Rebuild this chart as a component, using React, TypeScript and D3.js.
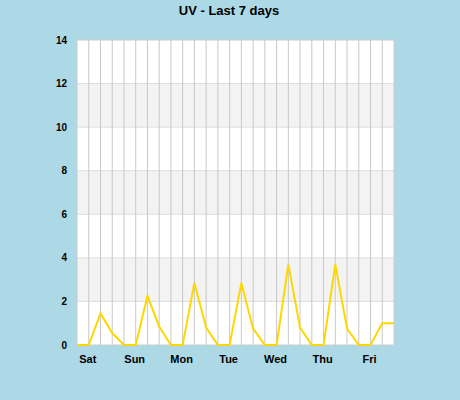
import React from 'react';
import * as d3 from 'd3';

// UV readings every 6 hours over the last 7 days
const uvValues = [
  0, 0, 1.45, 0.55, 0, 0, 2.25, 0.85, 0, 0, 2.85, 0.8, 0, 0,
  2.85, 0.75, 0, 0, 3.7, 0.8, 0, 0, 3.7, 0.75, 0, 0, 1.0, 1.0,
];
const dayLabels = ['Sat', 'Sun', 'Mon', 'Tue', 'Wed', 'Thu', 'Fri'];
const dayTickIndex = [1, 5, 9, 13, 17, 21, 25];
const yTicks = [0, 2, 4, 6, 8, 10, 12, 14];
const bandRanges = [[2, 4], [6, 8], [10, 12]];

const width = 460;
const height = 400;
const margin = { top: 40, right: 66, bottom: 55, left: 77 };
const font = '"Liberation Sans", Arial, sans-serif';

const App: React.FC = () => {
  const x = d3
    .scaleLinear()
    .domain([0, uvValues.length - 1])
    .range([margin.left, width - margin.right]);

  const y = d3
    .scaleLinear()
    .domain([0, 14])
    .range([height - margin.bottom, margin.top]);

  const line = d3
    .line<number>()
    .x((_, i) => x(i))
    .y(d => y(d));

  const gridIdx = d3.range(1, uvValues.length - 1);

  return (
    <>
      <style>{'body{margin:0}'}</style>
      <svg width={width} height={height} style={{ display: 'block' }}>
        <rect width={width} height={height} fill="#add8e6" />
        <text
          x={229}
          y={14.5}
          textAnchor="middle"
          fontFamily={font}
          fontSize={13}
          fontWeight="bold"
          fill="#000"
        >
          UV - Last 7 days
        </text>

        <rect
          x={x(0)}
          y={y(14)}
          width={x(uvValues.length - 1) - x(0)}
          height={y(0) - y(14)}
          fill="#fff"
        />
        {bandRanges.map(([a, b]) => (
          <rect
            key={a}
            x={x(0)}
            y={y(b)}
            width={x(uvValues.length - 1) - x(0)}
            height={y(a) - y(b)}
            fill="#f3f3f3"
          />
        ))}
        {yTicks.slice(1, -1).map(t => (
          <line
            key={t}
            x1={x(0)}
            x2={x(uvValues.length - 1)}
            y1={y(t)}
            y2={y(t)}
            stroke="#dddddd"
          />
        ))}
        {gridIdx.map(i => (
          <line
            key={i}
            x1={x(i)}
            x2={x(i)}
            y1={y(14)}
            y2={y(0)}
            stroke="#c8c8c8"
          />
        ))}
        <rect
          x={x(0)}
          y={y(14)}
          width={x(uvValues.length - 1) - x(0)}
          height={y(0) - y(14)}
          fill="none"
          stroke="#cccccc"
        />

        <path
          d={line(uvValues) ?? ''}
          fill="none"
          stroke="#ffd700"
          strokeWidth={2}
        />

        {yTicks.map(t => (
          <text
            key={t}
            x={67}
            y={y(t)}
            dy="0.35em"
            textAnchor="end"
            fontFamily={font}
            fontSize={10}
            fontWeight="bold"
            fill="#000"
          >
            {t}
          </text>
        ))}
        {dayLabels.map((d, i) => (
          <text
            key={d}
            x={x(dayTickIndex[i]) - 1}
            y={362.5}
            textAnchor="middle"
            fontFamily={font}
            fontSize={11}
            fontWeight="bold"
            fill="#000"
          >
            {d}
          </text>
        ))}
      </svg>
    </>
  );
};

export default App;
